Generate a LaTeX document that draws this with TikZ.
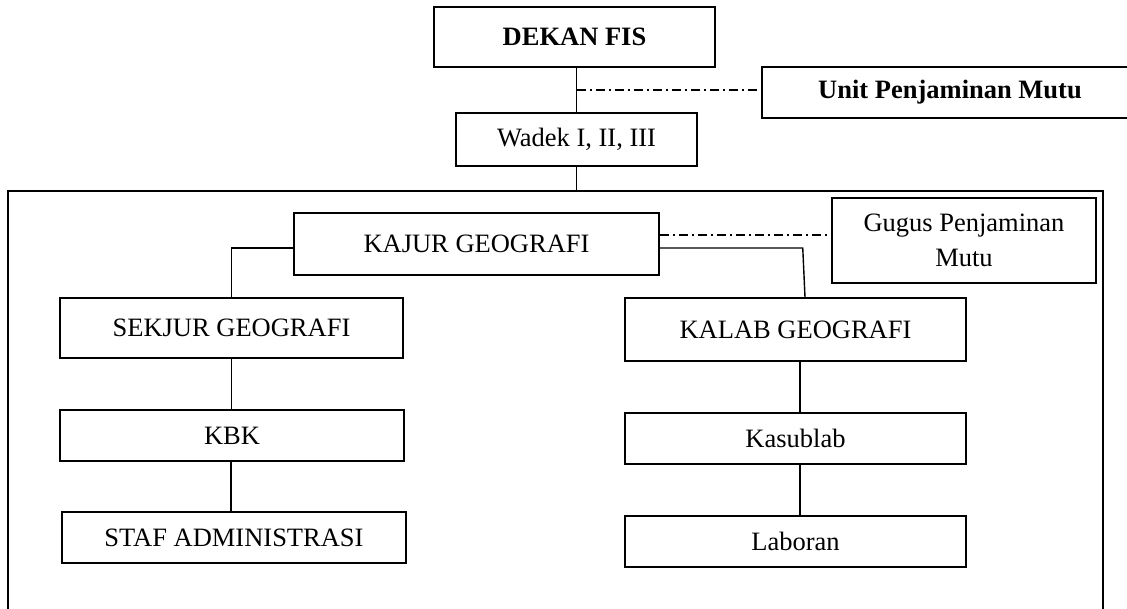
\documentclass[tikz,border=0pt]{standalone}
\usepackage{fontspec}
\setmainfont{Liberation Serif}
\begin{document}
\begin{tikzpicture}[x=1pt,y=-1pt,
  box/.style={draw, line width=1.5pt, inner sep=0pt, align=center,
    font=\fontsize{26.5pt}{35pt}\selectfont},
  conn/.style={line width=1.4pt},
  dashdotline/.style={line width=1.3pt, dash pattern=on 9pt off 4pt on 2pt off 4pt},
  frameline/.style={line width=2pt}]
\useasboundingbox (0,0) rectangle (1127,609);
\fill[white] (0,0) rectangle (1127,609);

\node[box, minimum width=281pt, minimum height=60pt] (dekan) at (574.5,37) {\textbf{DEKAN FIS}};
\node[box, minimum width=376pt, minimum height=51pt] (unit) at (950,92.5) {\textbf{Unit Penjaminan Mutu}};
\node[box, minimum width=241pt, minimum height=53pt] (wadek) at (576.5,139.5) {Wadek I, II, III};
\node[box, minimum width=365pt, minimum height=62pt] (kajur) at (476.5,244) {KAJUR GEOGRAFI};
\node[box, minimum width=264pt, minimum height=85pt] (gugus) at (964,240.5) {Gugus Penjaminan\\Mutu};
\node[box, minimum width=343pt, minimum height=60pt] (sekjur) at (231.5,328) {SEKJUR GEOGRAFI};
\node[box, minimum width=341pt, minimum height=63pt] (kalab) at (795.5,329.5) {KALAB GEOGRAFI};
\node[box, minimum width=344pt, minimum height=51pt] (kbk) at (232,435.5) {KBK};
\node[box, minimum width=341pt, minimum height=51pt] (kasub) at (795.5,438.5) {Kasublab};
\node[box, minimum width=344pt, minimum height=51pt] (staf) at (234,537.5) {STAF ADMINISTRASI};
\node[box, minimum width=341pt, minimum height=51pt] (labor) at (795.5,541.5) {Laboran};

% outer frame (open at the bottom, running past the picture edge)
\coordinate (fbl) at (8,620);
\coordinate (ftl) at (8,191);
\coordinate (ftr) at (1103,191);
\coordinate (fbr) at (1103,620);
\draw[frameline] (fbl) -- (ftl) -- (ftr) -- (fbr);

% connectors
\draw[conn] (wadek.north |- dekan.south) -- (wadek.north);
\coordinate (ua) at ([yshift=2.5pt]unit.west);
\draw[dashdotline] (wadek.north |- ua) -- (ua);
\draw[conn] (wadek.south) -- (wadek.south |- ftl);

\draw[conn] ([yshift=-4pt]kajur.west) -| (sekjur.north);
\coordinate (kg) at ([yshift=9pt]kajur.east);
\draw[dashdotline] (kg) -- (kg -| gugus.west);
\coordinate (kk) at ([xshift=143pt,yshift=-4pt]kajur.east);
\draw[conn] ([yshift=-4pt]kajur.east) -- (kk) -- ([xshift=9.5pt]kalab.north);

\draw[conn] ([xshift=4.5pt]kalab.south) -- ([xshift=4.5pt]kasub.north);
\draw[conn] ([xshift=4.5pt]kasub.south) -- ([xshift=4.5pt]labor.north);
\draw[conn] (sekjur.south) -- (sekjur.south |- kbk.north);
\draw[conn] ([xshift=-1pt]kbk.south) -- ([xshift=-1pt]kbk.south |- staf.north);
\end{tikzpicture}
\end{document}
